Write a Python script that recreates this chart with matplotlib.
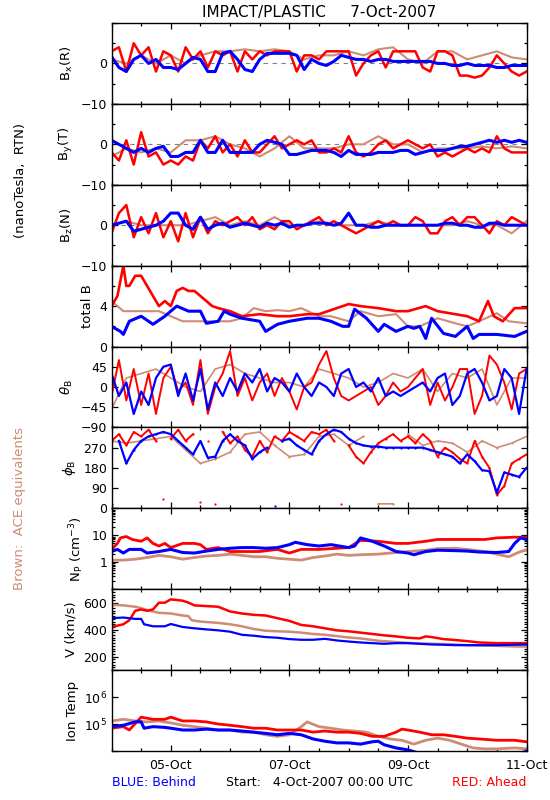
import numpy as np
import matplotlib
matplotlib.use('Agg')
import matplotlib.pyplot as plt
from matplotlib.ticker import FixedLocator, FixedFormatter, MultipleLocator, NullFormatter, NullLocator, LogLocator

plt.rcParams['font.family'] = ['DejaVu Sans']
plt.rcParams['mathtext.fontset'] = 'dejavusans'

RED = '#ff0000'
BLUE = '#0000ff'
BROWN = '#cd8c73'

# ---------------- time axis (days since 4-Oct-2007 00:00) ----------------
xtick_days = [1, 3, 5, 7]
xtick_labels = ['05-Oct', '07-Oct', '09-Oct', '11-Oct']
t3h = np.arange(57) * 0.125      # 3-hourly samples for STEREO field series
t6h = np.arange(29) * 0.25       # 6-hourly samples for ACE field series

# ---------------- B components (nT) ----------------
bx_red = [3, 4, -2, 5, 2, 4, -2, 3,
          2, -2, 4, 1, 3, -1, 3, 2,
          3, -2, 3, 1, 3, 2, 3, 3,
          3, -2, 2, 2, 1, 3, 3, 3,
          3, -3, 0, 2, 3, -1, 3, 3,
          3, 3, -1, -2, 3, 3, 2, -3,
          -3, -3.5, -3, -1, 2, 0, -2, -3,
          -2]
bx_blue = [1.7, -1, -2, 1, 2, 0, 1, -1,
           -1, -1.5, 0, 1.5, 1, -2, -2, 2.5,
           3, 1, -1.5, -2, 1, 2.5, 2.5, 2.5,
           2.5, 2, -1.5, 1, 0, -0.5, 0.5, 2,
           1.5, 1, 1, 0.5, 1, 1, 0.5, 0.5,
           0.5, 0.5, 0.5, 0.5, 0, 0, -0.5, -0.5,
           0, -0.5, -0.5, -0.5, -1, -1, -0.5, -0.5,
           -0.5]
bx_brown = [1, 0, 2, 0, 2, 0, 2, 3, 3, 3.5, 3, 3.5, 3, 1, 2, 2,
            3, 2, 3.5, 4, 1, 0, 3, 3, 1, 2, 3, 1.5, 1]

by_red = [-2, -4, 1, -5, 3, -3, -2, -5,
          -4, -5, -3, -4, 1, -1, 2, -2,
          0, -3, 1, -2, -2, 0, 2, -1,
          0, 1, 0, 1, -2, -2, -1, -2,
          2, -2, -3, -2, 0, 1, -1, 0,
          1, 0, -1, 0, -3, -2, -3, -2,
          -1, -2, -1, -2, 2, -1, -2, -2,
          -2]
by_blue = [1, 0, -1, -2, -1, -2, -1, -0.5,
           -3, -3, -2, -2, 1, -2, -2, 1,
           -2, -2, -2, -2, 0, 1, 0.5, 0,
           -2.5, -2.5, -2, -1.5, -1.5, -1.5, -2, -3,
           -1.5, -2.5, -2.5, -2.5, -2, -2, -2, -1.5,
           -1.5, -2.5, -2, -1.5, -1.5, -1.5, -1, -0.5,
           -0.5, 0, 0.5, 1, 0.5, 1, 0.5, 1,
           0.5]
by_brown = [-3, -1, -2, -1, -2, 1, 1, 2, 0, -1, -3, -1, 2, -1, -1, -1,
            0, 0, 2, 0, 0, -2, -1, -1, -1, -0.5, -1, -0.5, -1]

bz_red = [-2, 3, 5, -3, 2, -2, 3, -3,
          1, -4, 3, -3, 2, -2, 1, 0,
          1, 2, 0, 2, -1, 0, -1, 1,
          1, -1, 0, 1, 2, 0, 1, 0,
          -1, -2, -1, 0, 1, 0, 1, 0,
          0, 2, 1, -2, -2, 1, 2, 0,
          2, 2, 0, -2, 1, 0, 2, 1,
          0]
bz_blue = [0, 0.5, 1, -1.5, -1, -0.5, 0, 1,
           3, 3, 0, -1, 2, -1, 0, 0.5,
           -0.5, 0, 0.5, 0, -0.5, 0.5, 0, 0.5,
           -0.5, 0, 0, 0.5, 0.5, 0.5, 0, 0.5,
           3, 0, 0, -0.5, -0.5, 0, 0, 0,
           0, 0, 0, 0, 0, 0.5, 0.5, 0,
           0, -0.5, -0.5, 0.5, 0.5, 0, 0, 0,
           0]
bz_brown = [0, 1, 0, 0, 0, 0, 1, 2, 0, 1, 0, 2, 0, 0, 1, 0,
            0, 0, 1, 0, 0, 0, 0, 0, 1, 0, 0, -2, 1]

# ---------------- total B (nT) ----------------
bt_red_t = [0, 0.1, 0.2, 0.25, 0.3, 0.4, 0.5, 0.6, 0.7, 0.8, 0.9, 1.0, 1.1, 1.2, 1.3,
            1.4, 1.5, 1.6, 1.7, 1.8, 2.0, 2.2, 2.5, 2.8, 3.0, 3.3, 3.5, 3.8, 4.0, 4.2,
            4.5, 4.8, 5.0, 5.3, 5.5, 5.8, 6.0, 6.2, 6.35, 6.45, 6.6, 6.8, 7.0]
bt_red = [4, 5, 8, 6, 6, 7, 7, 6, 5, 4, 4.5, 4, 5.5, 5.8, 5.5,
          5.5, 5, 4.5, 4, 3.8, 3.5, 3, 3.2, 3, 3, 3.2, 3.2, 3.8, 4.2, 4,
          3.8, 3.5, 3.5, 4, 3.5, 3.2, 3, 2.5, 4.5, 3, 2.5, 3.8, 3.8]
bt_blue_t = [0, 0.15, 0.2, 0.3, 0.5, 0.7, 0.9, 1.0, 1.1, 1.3, 1.5, 1.6, 1.8, 1.9, 2.0,
             2.2, 2.5, 2.6, 2.8, 3.0, 3.3, 3.5, 3.7, 3.9, 4.0, 4.1, 4.3, 4.5, 4.6, 4.8,
             5.0, 5.1, 5.2, 5.3, 5.4, 5.6, 5.8, 6.0, 6.1, 6.2, 6.5, 6.8, 7.0]
bt_blue = [2, 1.5, 1.2, 2.5, 3, 2.2, 3, 3.5, 4, 3.5, 3.5, 2.3, 2.5, 3.5, 3.2,
           2.8, 2.5, 1.5, 2.2, 2.5, 2.8, 2.8, 2.5, 2, 2, 3.7, 2.8, 1.5, 2.2, 1.5,
           2, 1.8, 2, 0.8, 2.8, 1.3, 1, 2, 0.8, 1.2, 1.2, 1, 1.5]
bt_brown_t = [0, 0.2, 0.5, 0.8, 1.0, 1.2, 1.5, 1.8, 2.0, 2.2, 2.4, 2.6, 2.8, 3.0, 3.2,
              3.5, 3.7, 4.0, 4.2, 4.5, 4.8, 5.0, 5.2, 5.5, 5.8, 6.0, 6.2, 6.5, 6.7, 7.0]
bt_brown = [4.5, 3.5, 3.5, 3.5, 3, 2.5, 2.5, 2.5, 2.5, 2.8, 3.8, 3.5, 3.6, 3.5, 3.8,
            3, 3, 2.5, 3.5, 3, 3.2, 2, 2, 2.8, 2.3, 2, 2.5, 3.3, 2.5, 2.3]

# ---------------- field angles (deg) ----------------
th_red = [-20, 60, -30, 40, -40, 30, -60, 20,
          45, -10, 10, -40, 60, -60, 0, 30,
          80, -20, 20, -30, 10, 30, -20, 20,
          -10, -50, 0, 10, 50, 80, 20, -20,
          -30, -20, -10, 0, -40, -20, 10, -10,
          0, 20, 40, -40, 10, -30, 0, 40,
          40, -60, -20, 70, 50, 10, -50, 30,
          40]
th_blue = [30, -20, 10, -60, -10, -40, 20, 45,
           50, -20, 30, -30, 40, -50, 10, -20,
           20, -10, 30, 10, 40, -10, 20, 10,
           -10, 30, 0, -20, 10, 0, -20, 30,
           40, 0, 10, -10, 20, -20, -10, -20,
           -10, 0, 10, -10, 20, 30, -40, -20,
           30, 40, 10, -30, -20, 40, 20, -60,
           40]
th_brown = [-50, 20, 30, 40, 20, 0, -10, 40, 50, 30, 20, 10, 10, 0, 40, 30,
            20, 0, 10, 30, 20, 40, -10, 30, 20, 40, -40, 20, 20]

ph_red = [300, 330, 280, 340, 320, 350, 300, 40,
          310, 350, 300, 330, 30, 300, 20, 340,
          290, 320, 260, 230, 300, 250, 320, 300,
          340, 320, 300, 340, 330, 350, 300, 20,
          280, 230, 200, 250, 290, 310, 330, 300,
          320, 290, 330, 300, 230, 270, 250, 220,
          200, 300, 230, 180, 60, 100, 200, 220,
          240]
ph_blue = [20, 300, 200, 260, 300, 320, 330, 340,
           330, 300, 270, 240, 300, 225, 230, 300,
           330, 300, 280, 220, 250, 270, 10, 300,
           310, 280, 260, 240, 300, 330, 350, 340,
           310, 290, 280, 275, 275, 270, 270, 270,
           270, 270, 270, 260, 250, 240, 230, 200,
           240, 210, 170, 165, 70, 160, 150, 140,
           180]
ph_brown = [300, 290, 300, 310, 320, 260, 200, 220, 250, 330, 340, 280, 230, 240, 320, 330,
            280, 320, 20, 20, 330, 280, 300, 290, 250, 300, 270, 290, 320]

# ---------------- proton density (cm^-3) ----------------
np_red_t = [0, 0.1, 0.15, 0.25, 0.35, 0.5, 0.6, 0.7, 0.8, 0.9, 1.0, 1.2, 1.4, 1.5, 1.6,
            1.8, 2.0, 2.2, 2.5, 2.8, 3.0, 3.2, 3.5, 3.8, 4.0, 4.2, 4.5, 4.8, 5.0, 5.3,
            5.5, 5.8, 6.0, 6.3, 6.5, 6.8, 7.0]
np_red = [3, 5, 8, 9, 7, 6, 8, 5, 4, 5, 3.5, 5, 5, 4.5, 3,
          3.5, 2.5, 2.5, 2.5, 3, 2.2, 3, 3, 3.3, 3.5, 6.5, 6, 5, 5, 6,
          7, 7, 7, 7, 8, 8.5, 8.5]
np_blue_t = [0, 0.1, 0.2, 0.3, 0.5, 0.6, 0.8, 1.0, 1.2, 1.4, 1.6, 1.8, 2.0, 2.2, 2.4,
             2.6, 2.8, 3.0, 3.1, 3.3, 3.5, 3.7, 4.0, 4.1, 4.2, 4.4, 4.6, 4.8, 5.0, 5.1,
             5.3, 5.5, 5.8, 6.0, 6.2, 6.5, 6.7, 6.8, 6.9, 7.0]
np_blue = [2.5, 3, 2.2, 3, 3, 2.2, 2.5, 3, 2.3, 2.2, 2.6, 3, 3.3, 3.5, 3.5,
           3.3, 3.5, 4.5, 5.5, 4.5, 4, 4.5, 3.5, 4, 8, 6, 4, 2.5, 2.2, 1.9,
           2.5, 2.8, 2.7, 2.6, 2.4, 2.3, 2.5, 5, 8, 7]
np_brown_t = [0, 0.2, 0.4, 0.6, 0.8, 1.0, 1.2, 1.4, 1.6, 1.8, 2.0, 2.2, 2.4, 2.6, 2.8,
              3.0, 3.2, 3.4, 3.6, 3.8, 4.0, 4.2, 4.5, 4.8, 5.0, 5.3, 5.5, 5.8, 6.0, 6.3,
              6.5, 6.7, 6.9, 7.0]
np_brown = [1.2, 1.2, 1.3, 1.5, 1.8, 1.6, 1.3, 1.5, 1.7, 1.8, 2.0, 1.8, 1.6, 1.6, 1.4,
            1.3, 1.2, 1.5, 1.7, 2.0, 1.8, 1.9, 2.0, 2.3, 2.5, 2.8, 3.2, 3.3, 3.0, 2.5,
            2.0, 1.6, 2.5, 2.8]

# ---------------- bulk speed (km/s) ----------------
v_red_t = [0, 0.2, 0.3, 0.4, 0.5, 0.6, 0.7, 0.8, 0.9, 1.0, 1.1, 1.2, 1.3, 1.4, 1.6,
           1.8, 2.0, 2.2, 2.4, 2.6, 2.8, 3.0, 3.2, 3.4, 3.6, 3.8, 4.0, 4.2, 4.4, 4.6,
           4.8, 5.0, 5.2, 5.3, 5.4, 5.6, 5.75, 6.0, 6.2, 6.5, 6.8, 7.0]
v_red = [420, 440, 470, 540, 550, 540, 550, 600, 600, 625, 620, 615, 600, 580, 575,
         570, 535, 520, 510, 505, 485, 465, 435, 425, 410, 395, 388, 378, 368, 358,
         350, 340, 335, 350, 345, 330, 325, 315, 305, 300, 300, 300]
v_blue_t = [0, 0.2, 0.4, 0.5, 0.55, 0.7, 0.9, 1.0, 1.2, 1.4, 1.6, 1.8, 2.0, 2.2, 2.4,
            2.6, 2.8, 3.0, 3.2, 3.4, 3.6, 3.8, 4.0, 4.2, 4.4, 4.6, 4.8, 5.0, 5.2, 5.4,
            5.6, 5.8, 6.0, 6.5, 7.0]
v_blue = [485, 490, 480, 480, 440, 425, 425, 442, 420, 410, 402, 395, 385, 362, 355,
          345, 340, 330, 325, 325, 332, 320, 312, 305, 300, 295, 300, 300, 295, 290,
          288, 285, 285, 285, 290]
v_brown_t = [0, 0.2, 0.4, 0.5, 0.6, 0.8, 1.0, 1.2, 1.3, 1.35, 1.5, 1.8, 2.0, 2.2, 2.4,
             2.6, 2.8, 3.0, 3.2, 3.4, 3.6, 3.8, 4.0, 4.2, 4.5, 4.8, 5.0, 5.2, 5.5, 5.8,
             6.0, 6.3, 6.5, 6.8, 7.0]
v_brown = [585, 580, 570, 560, 545, 525, 520, 505, 500, 470, 460, 450, 440, 425, 405,
           392, 388, 385, 378, 368, 362, 352, 342, 335, 318, 308, 302, 298, 295, 290,
           285, 282, 280, 275, 275]

# ---------------- ion temperature (K) ----------------
ti_red_t = [0, 0.2, 0.3, 0.5, 0.7, 0.9, 1.0, 1.2, 1.4, 1.6, 1.8, 2.0, 2.2, 2.4, 2.6,
            2.8, 3.0, 3.2, 3.4, 3.6, 3.8, 4.0, 4.2, 4.4, 4.6, 4.8, 4.9, 5.0, 5.2, 5.4,
            5.6, 5.8, 6.0, 6.2, 6.5, 6.8, 7.0]
ti_red = [7e4, 8e4, 6e4, 1.8e5, 1.5e5, 1.5e5, 1.8e5, 1.3e5, 1.3e5, 1.2e5, 1e5, 9e4, 8e4, 7e4, 7e4,
          6e4, 6e4, 6e4, 5e4, 5.5e4, 5e4, 5e4, 4.5e4, 3.5e4, 3.5e4, 5e4, 6.5e4, 6e4, 5e4, 4e4,
          4e4, 3.5e4, 3e4, 2.8e4, 2.5e4, 2.5e4, 2.2e4]
ti_blue_t = [0, 0.2, 0.4, 0.5, 0.55, 0.7, 0.9, 1.0, 1.2, 1.4, 1.6, 1.8, 2.0, 2.2, 2.4,
             2.6, 2.8, 3.0, 3.2, 3.4, 3.6, 3.8, 4.0, 4.2, 4.4, 4.5, 4.6, 4.8, 5.0, 5.1,
             5.2, 6.9, 7.0]
ti_blue = [8e4, 9e4, 1.2e5, 1.2e5, 7e4, 8e4, 7.5e4, 7e4, 6e4, 6e4, 6.5e4, 6e4, 6e4, 5.5e4, 5e4,
           4.5e4, 4e4, 4.5e4, 4e4, 2.8e4, 2.3e4, 2e4, 2e4, 1.8e4, 2.2e4, 2.3e4, 1.7e4, 1.3e4, 1.1e4, 9.5e3,
           8e3, 8e3, 1e4]
ti_brown_t = [0, 0.2, 0.4, 0.6, 0.8, 1.0, 1.2, 1.4, 1.6, 1.8, 2.0, 2.2, 2.4, 2.6, 2.8,
              3.0, 3.2, 3.3, 3.5, 3.7, 3.9, 4.1, 4.3, 4.5, 4.7, 4.9, 5.1, 5.3, 5.5, 5.7,
              5.9, 6.1, 6.3, 6.5, 6.8, 7.0]
ti_brown = [1.3e5, 1.5e5, 1.3e5, 1.2e5, 1.3e5, 1.1e5, 9e4, 8e4, 7e4, 6e4, 6e4, 5e4, 5e4, 4e4, 3.5e4,
            4e4, 8e4, 1.2e5, 8e4, 7e4, 6e4, 5.5e4, 5e4, 3.5e4, 2.8e4, 2.5e4, 1.8e4, 2.5e4, 3e4, 2.5e4,
            1.8e4, 1.3e4, 1.2e4, 1.2e4, 1.3e4, 1.2e4]

# ---------------- layout ----------------
W, H = 550, 800
LEFT, RIGHT, TOP, BOTTOM = 111.5, 526.5, 23.0, 751.0
PH = (BOTTOM - TOP) / 9.0

fig = plt.figure(figsize=(W / 100, H / 100), dpi=100)


def make_ax(i):
    y0 = TOP + i * PH
    ax = fig.add_axes([LEFT / W, 1 - (y0 + PH) / H, (RIGHT - LEFT) / W, PH / H])
    ax.set_xlim(0, 7)
    ax.xaxis.set_major_locator(FixedLocator(xtick_days))
    ax.xaxis.set_minor_locator(MultipleLocator(0.5))
    if i == 8:
        ax.xaxis.set_major_formatter(FixedFormatter(xtick_labels))
    else:
        ax.xaxis.set_major_formatter(NullFormatter())
    ax.tick_params(which='both', direction='in', top=True, right=True,
                   labelsize=9, width=0.9, colors='black')
    ax.tick_params(which='major', length=4.0)
    ax.tick_params(which='minor', length=2.4)
    ax.tick_params(axis='x', which='major', pad=6)
    ax.tick_params(axis='y', which='both', pad=3)
    for s in ax.spines.values():
        s.set_linewidth(1.0)
        s.set_zorder(6)
    return ax


def set_y(ax, lim, major, labels, minor=None, log=False):
    if log:
        ax.set_yscale('log')
    ax.set_ylim(*lim)
    ax.yaxis.set_major_locator(FixedLocator(major))
    ax.yaxis.set_major_formatter(FixedFormatter(labels))
    if minor is None:
        ax.yaxis.set_minor_locator(NullLocator())
    else:
        ax.yaxis.set_minor_locator(minor)
    ax.yaxis.set_minor_formatter(NullFormatter())


def plot3(ax, tb, yb, tr, yr, tbl, ybl, lw_b=1.5, lw_r=1.6, lw_bl=2.0, **kw):
    ax.plot(tb, yb, color=BROWN, lw=lw_b, zorder=2, **kw)
    ax.plot(tr, yr, color=RED, lw=lw_r, zorder=3, **kw)
    ax.plot(tbl, ybl, color=BLUE, lw=lw_bl, zorder=4, **kw)


def wrap_break(t, v):
    t = np.asarray(t, float)
    v = np.asarray(v, float)
    tt, vv = [t[0]], [v[0]]
    for k in range(1, len(t)):
        if abs(v[k] - v[k - 1]) > 180:
            tt.append(np.nan)
            vv.append(np.nan)
        tt.append(t[k])
        vv.append(v[k])
    return tt, vv


LABEL_FS = 9.5
MINUS = '\u2212'

# Panel 1-3: B components
comp = [(bx_brown, bx_red, bx_blue, r'B$_\mathrm{x}$(R)'),
        (by_brown, by_red, by_blue, r'B$_\mathrm{y}$(T)'),
        (bz_brown, bz_red, bz_blue, r'B$_\mathrm{z}$(N)')]
for i, (br, rd, bl, lab) in enumerate(comp):
    ax = make_ax(i)
    ax.axhline(0, color='#808080', lw=0.8, ls=(0, (4, 4)), zorder=1)
    plot3(ax, t6h, br, t3h, rd, t3h, bl, lw_r=1.8, lw_bl=2.2)
    set_y(ax, (-10, 10), [-10, 0, 10], [MINUS + '10', '0', ''], FixedLocator([-5, 5]))
    ax.set_ylabel(lab, fontsize=LABEL_FS, labelpad=4)

# Panel 4: total B
ax = make_ax(3)
plot3(ax, bt_brown_t, bt_brown, bt_red_t, bt_red, bt_blue_t, bt_blue, lw_r=1.9, lw_bl=2.2)
set_y(ax, (0, 8), [0, 4, 8], ['0', '4', ''], FixedLocator([2, 6]))
ax.set_ylabel('total B', fontsize=LABEL_FS, labelpad=4)

# Panel 5: theta
ax = make_ax(4)
plot3(ax, t6h, th_brown, t3h, th_red, t3h, th_blue, lw_b=1.2, lw_r=1.4, lw_bl=1.6)
set_y(ax, (-90, 90), [-90, -45, 0, 45, 90], [MINUS + '90', MINUS + '45', '0', '45', ''])
ax.set_ylabel(r'$\theta_\mathrm{B}$', fontsize=LABEL_FS, labelpad=4)

# Panel 6: phi
ax = make_ax(5)
tb, vb = wrap_break(t6h, ph_brown)
tr, vr = wrap_break(t3h, ph_red)
tl, vl = wrap_break(t3h, ph_blue)
plot3(ax, tb, vb, tr, vr, tl, vl, lw_b=1.2, lw_r=1.4, lw_bl=1.6,
      marker='o', markersize=1.6, markeredgewidth=0)
set_y(ax, (0, 360), [0, 90, 180, 270, 360], ['0', '90', '180', '270', ''])
ax.set_ylabel(r'$\phi_\mathrm{B}$', fontsize=LABEL_FS, labelpad=4)

# Panel 7: density
ax = make_ax(6)
plot3(ax, np_brown_t, np_brown, np_red_t, np_red, np_blue_t, np_blue, lw_b=2.0, lw_r=2.0, lw_bl=2.2)
set_y(ax, (0.1, 100), [0.1, 1, 10, 100], ['', '1', '10', ''],
      LogLocator(base=10, subs=np.arange(2, 10)), log=True)
ax.set_ylabel(r'N$_\mathrm{P}$ (cm$^{-3}$)', fontsize=LABEL_FS, labelpad=4)

# Panel 8: speed
ax = make_ax(7)
plot3(ax, v_brown_t, v_brown, v_red_t, v_red, v_blue_t, v_blue, lw_b=1.8, lw_r=1.8, lw_bl=1.6)
set_y(ax, (100, 700), [200, 400, 600], ['200', '400', '600'], MultipleLocator(20))
ax.set_ylabel('V (km/s)', fontsize=LABEL_FS, labelpad=4)

# Panel 9: ion temperature
ax = make_ax(8)
plot3(ax, ti_brown_t, ti_brown, ti_red_t, ti_red, ti_blue_t, ti_blue, lw_b=2.0, lw_r=2.0, lw_bl=2.2)
set_y(ax, (1e4, 1e7), [1e4, 1e5, 1e6, 1e7], ['', r'$10^5$', r'$10^6$', ''], log=True)
ax.set_ylabel('Ion Temp', fontsize=LABEL_FS, labelpad=4)

# ---------------- annotations ----------------
fig.text(319 / W, 1 - 12 / H, 'IMPACT/PLASTIC     7-Oct-2007', ha='center', va='center', fontsize=11)
fig.text(21 / W, 1 - 181 / H, '(nanoTesla,  RTN)', rotation=90, ha='center', va='center', fontsize=LABEL_FS)
fig.text(20 / W, 1 - 509 / H, 'Brown:  ACE equivalents', rotation=90, ha='center', va='center',
         fontsize=LABEL_FS, color=BROWN)
fig.text(112 / W, 1 - 783 / H, 'BLUE: Behind', ha='left', va='center', fontsize=9, color=BLUE)
fig.text(319 / W, 1 - 782 / H, 'Start:   4-Oct-2007 00:00 UTC', ha='center', va='center', fontsize=9)
fig.text(526.5 / W, 1 - 783 / H, 'RED: Ahead', ha='right', va='center', fontsize=9, color=RED)

fig.savefig('out.png', dpi=100)
